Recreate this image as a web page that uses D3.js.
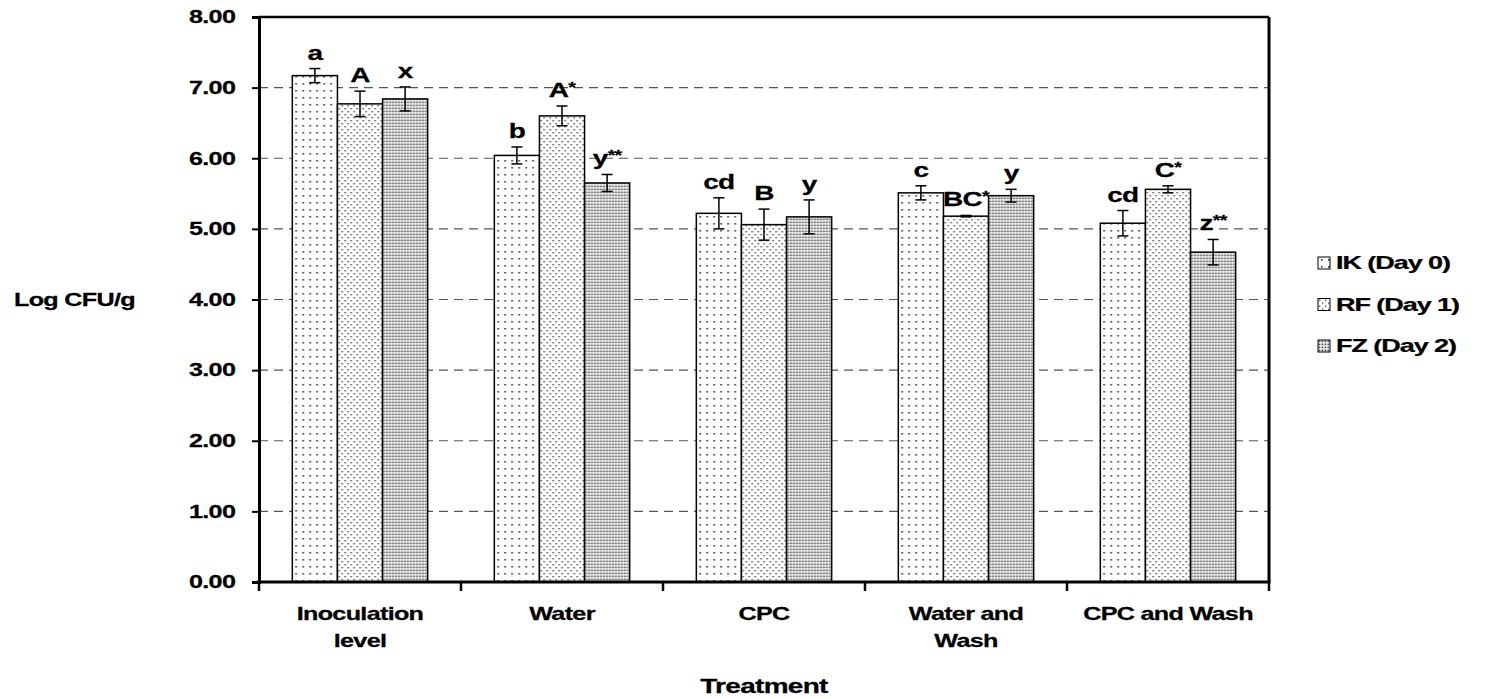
<!DOCTYPE html>
<html>
<head>
<meta charset="utf-8">
<script src="https://cdn.jsdelivr.net/npm/d3@7"></script>
<style>
  body { margin: 0; background: #fff; }
  text { font-family: "Liberation Sans", Arial, sans-serif; font-weight: bold; fill: #000; stroke: #000; stroke-width: 0.25; }
</style>
</head>
<body>
<script>
// chart data
var treatments = [["Inoculation", "level"], ["Water"], ["CPC"], ["Water and", "Wash"], ["CPC and Wash"]];
var seriesNames = ["IK (Day 0)", "RF (Day 1)", "FZ (Day 2)"];
var ikMean = [7.17, 6.04, 5.22, 5.51, 5.08];
var ikErr = [0.10, 0.12, 0.22, 0.10, 0.18];
var rfMean = [6.77, 6.60, 5.06, 5.18, 5.56];
var rfErr = [0.18, 0.14, 0.22, 0.01, 0.05];
var fzMean = [6.84, 5.65, 5.17, 5.47, 4.67];
var fzErr = [0.17, 0.12, 0.24, 0.09, 0.18];
var ikLetters = ["a", "b", "cd", "c", "cd"];
var rfLetters = ["A", "A*", "B", "BC*", "C*"];
var fzLetters = ["x", "y**", "y", "y", "z**"];
var yTicks = [0, 1, 2, 3, 4, 5, 6, 7, 8];

var width = 1488, height = 699;
var margin = {left: 259, top: 17, right: 219, bottom: 117};
var innerW = width - margin.left - margin.right,
    innerH = height - margin.top - margin.bottom;
var stretch = 1.4; // text in the picture is widened

var svg = d3.select("body").append("svg")
    .attr("width", width)
    .attr("height", height);

// fill patterns for the three series
var defs = svg.append("defs");
function dotPattern(id, w, h, dots, size, color) {
    var p = defs.append("pattern")
        .attr("id", id)
        .attr("patternUnits", "userSpaceOnUse")
        .attr("width", w)
        .attr("height", h);
    p.append("rect").attr("width", w).attr("height", h).attr("fill", "#fff");
    dots.forEach(function(d) {
        p.append("rect")
            .attr("x", d[0]).attr("y", d[1])
            .attr("width", size).attr("height", size)
            .attr("fill", color);
    });
}
dotPattern("pIK", 7, 7, [[3, 3]], 1.6, "#333");
dotPattern("pRF", 6, 6, [[1, 1], [4, 4]], 1.4, "#444");
dotPattern("pFZ", 3, 3, [[0.5, 0.5]], 1.8, "#555");
var fills = ["url(#pIK)", "url(#pRF)", "url(#pFZ)"];

var series = seriesNames.map(function(name, i) {
    var m = [ikMean, rfMean, fzMean][i],
        e = [ikErr, rfErr, fzErr][i],
        l = [ikLetters, rfLetters, fzLetters][i];
    return treatments.map(function(t, j) {
        return {s: i, cat: j, mean: m[j], err: e[j], label: l[j]};
    });
});

var x0 = d3.scaleBand()
    .domain(d3.range(treatments.length))
    .range([0, innerW])
    .paddingInner(0.33)
    .paddingOuter(0.165);
var x1 = d3.scaleBand()
    .domain(d3.range(seriesNames.length))
    .range([0, x0.bandwidth()]);
var y = d3.scaleLinear().domain([0, 8]).range([innerH, 0]);

var g = svg.append("g").attr("transform", "translate(" + margin.left + "," + margin.top + ")");

// dashed gridlines
g.append("g").selectAll("line")
    .data(yTicks.filter(function(t) { return t > 0 && t < 8; }))
    .enter().append("line")
    .attr("x1", 0).attr("x2", innerW)
    .attr("y1", function(d) { return y(d); })
    .attr("y2", function(d) { return y(d); })
    .attr("stroke", "#555")
    .attr("stroke-width", 1.2)
    .attr("stroke-dasharray", "9,6");

// bars
var bars = g.append("g").selectAll("g")
    .data(d3.merge(series))
    .enter().append("g")
    .attr("transform", function(d) { return "translate(" + (x0(d.cat) + x1(d.s)) + ",0)"; });

bars.append("rect")
    .attr("x", 0)
    .attr("y", function(d) { return y(d.mean); })
    .attr("width", x1.bandwidth())
    .attr("height", function(d) { return innerH - y(d.mean); })
    .attr("fill", function(d) { return fills[d.s]; })
    .attr("stroke", "#000")
    .attr("stroke-width", 1.5);

// error bars
var cx = x1.bandwidth() / 2, cap = 5.5;
bars.append("line")
    .attr("x1", cx).attr("x2", cx)
    .attr("y1", function(d) { return y(d.mean + d.err); })
    .attr("y2", function(d) { return y(d.mean - d.err); })
    .attr("stroke", "#000").attr("stroke-width", 1.5);
bars.append("line")
    .attr("x1", cx - cap).attr("x2", cx + cap)
    .attr("y1", function(d) { return y(d.mean + d.err); })
    .attr("y2", function(d) { return y(d.mean + d.err); })
    .attr("stroke", "#000").attr("stroke-width", 1.5);
bars.append("line")
    .attr("x1", cx - cap).attr("x2", cx + cap)
    .attr("y1", function(d) { return y(d.mean - d.err); })
    .attr("y2", function(d) { return y(d.mean - d.err); })
    .attr("stroke", "#000").attr("stroke-width", 1.5);

// significance letters, stars set smaller and raised
var lab = bars.append("text")
    .attr("text-anchor", "middle")
    .attr("font-size", 20)
    .attr("letter-spacing", -0.5)
    .attr("transform", function(d) {
        return "translate(" + cx + "," + (y(d.mean + d.err) - 9) + ") scale(" + stretch + ",1)";
    });
lab.append("tspan").text(function(d) { return d.label.replace(/\*/g, ""); });
lab.append("tspan")
    .attr("font-size", 14)
    .attr("dy", -5)
    .text(function(d) { return d.label.replace(/[^*]/g, ""); });

// frame
g.append("line").attr("x1", 0).attr("x2", innerW).attr("y1", 0).attr("y2", 0)
    .attr("stroke", "#000").attr("stroke-width", 2.5);
g.append("line").attr("x1", innerW).attr("x2", innerW).attr("y1", 0).attr("y2", innerH)
    .attr("stroke", "#000").attr("stroke-width", 3);

// y axis
var yAxis = g.append("g")
    .call(d3.axisLeft(y).tickValues(yTicks).tickSize(7).tickPadding(10)
        .tickFormat(d3.format(".2f")));
yAxis.select(".domain").attr("stroke-width", 3);
yAxis.selectAll(".tick line").attr("stroke-width", 2);
yAxis.selectAll("text")
    .attr("font-size", 18)
    .attr("font-family", null)
    .attr("letter-spacing", -0.5)
    .attr("transform", "scale(" + stretch + ",1)");

// x axis: ticks at category boundaries
var bounds = d3.range(treatments.length + 1).map(function(i) { return i * innerW / treatments.length; });
var xAxis = g.append("g").attr("transform", "translate(0," + innerH + ")");
xAxis.append("line").attr("x1", -2).attr("x2", innerW + 1.5)
    .attr("stroke", "#000").attr("stroke-width", 3);
xAxis.selectAll(".bt").data(bounds).enter().append("line")
    .attr("class", "bt")
    .attr("x1", function(d) { return d; }).attr("x2", function(d) { return d; })
    .attr("y1", 0).attr("y2", 9)
    .attr("stroke", "#000").attr("stroke-width", 2.5);

var catLabels = xAxis.selectAll(".cl").data(treatments).enter().append("text")
    .attr("class", "cl")
    .attr("text-anchor", "middle")
    .attr("font-size", 18)
    .attr("letter-spacing", -0.5)
    .attr("transform", function(d, i) {
        return "translate(" + (x0(i) + x0.bandwidth() / 2) + ",38) scale(" + stretch + ",1)";
    });
catLabels.selectAll("tspan").data(function(d) { return d; }).enter().append("tspan")
    .attr("x", 0)
    .attr("y", function(d, i) { return i * 27; })
    .text(function(d) { return d; });

// axis titles
svg.append("text")
    .attr("font-size", 18)
    .attr("letter-spacing", -0.5)
    .attr("transform", "translate(14," + (margin.top + y(4) + 6) + ") scale(" + stretch + ",1)")
    .text("Log CFU/g");
svg.append("text")
    .attr("text-anchor", "middle")
    .attr("font-size", 20)
    .attr("letter-spacing", -0.5)
    .attr("transform", "translate(" + (margin.left + innerW / 2) + ",693) scale(" + stretch + ",1)")
    .text("Treatment");

// legend
var legend = svg.append("g").attr("transform", "translate(1318,263)");
var item = legend.selectAll("g").data(seriesNames).enter().append("g")
    .attr("transform", function(d, i) { return "translate(0," + i * 41.5 + ")"; });
item.append("rect")
    .attr("x", 0).attr("y", -6)
    .attr("width", 12).attr("height", 12)
    .attr("fill", function(d, i) { return fills[i]; })
    .attr("stroke", "#000").attr("stroke-width", 1);
item.append("text")
    .attr("font-size", 18)
    .attr("dy", 6)
    .attr("letter-spacing", -0.7)
    .attr("transform", "translate(18,0) scale(1.5,1)")
    .text(function(d) { return d; });
</script>
</body>
</html>
